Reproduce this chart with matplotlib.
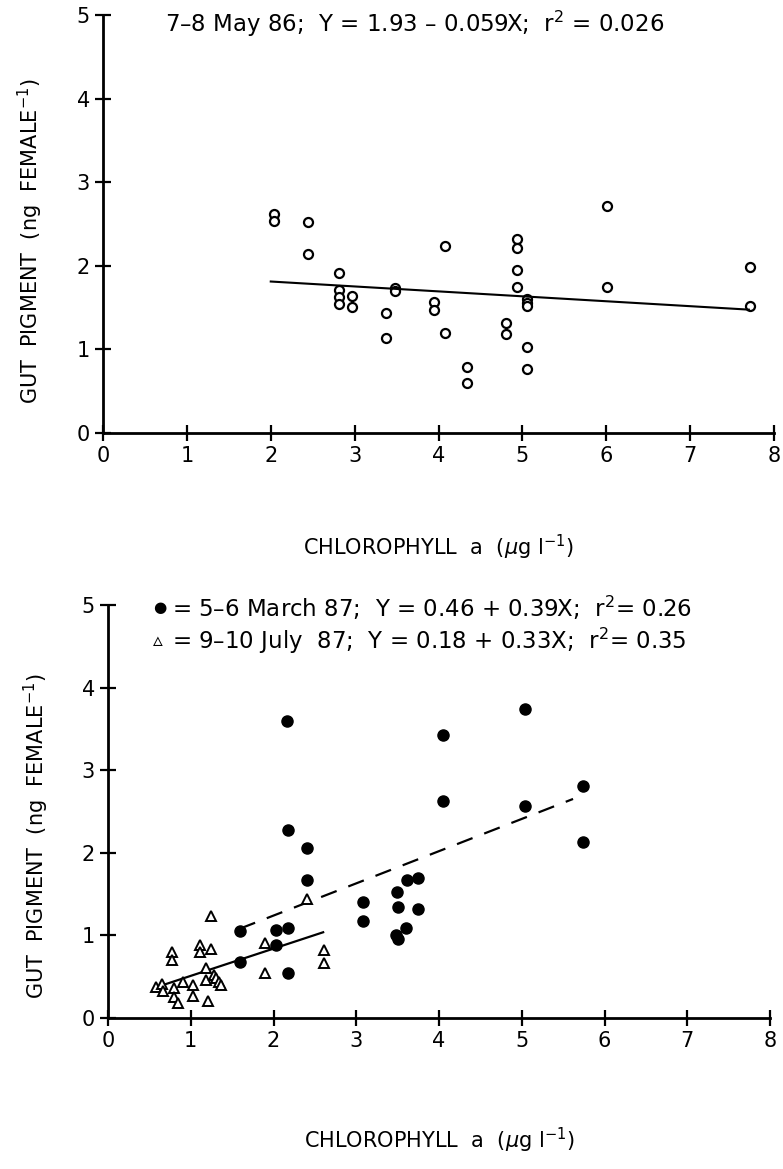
import matplotlib
matplotlib.use("Agg")
import matplotlib.pyplot as plt
import numpy as np

plt.rcParams['font.family'] = ['DejaVu Sans']
plt.rcParams['lines.scale_dashes'] = False
plt.rcParams['mathtext.fontset'] = 'dejavusans'

# ---- Top panel: 7-8 May 86 ----
may_x = [2.04, 2.04, 2.44, 2.44, 2.81, 2.81, 2.81, 2.81, 2.97, 2.97, 3.37, 3.37,
         3.48, 3.48, 3.95, 3.95, 4.08, 4.08, 4.34, 4.34, 4.81, 4.81, 4.93, 4.93,
         4.93, 4.93, 5.05, 5.05, 5.05, 5.05, 5.05, 6.01, 6.01, 7.71, 7.71]
may_y = [2.62, 2.53, 2.52, 2.14, 1.91, 1.71, 1.63, 1.54, 1.64, 1.51, 1.43, 1.14,
         1.73, 1.70, 1.57, 1.47, 2.24, 1.20, 0.79, 0.60, 1.32, 1.18, 2.32, 2.21,
         1.95, 1.75, 1.60, 1.55, 1.52, 1.03, 0.76, 2.72, 1.75, 1.99, 1.52]
may_fit = (1.93, -0.059)
may_fit_range = [2.0, 7.7]

# ---- Bottom panel: 5-6 March 87 (filled circles) ----
mar_x = [1.59, 1.59, 2.03, 2.03, 2.17, 2.17, 2.17, 2.16, 2.40, 2.40, 3.08, 3.08,
         3.49, 3.51, 3.48, 3.50, 3.61, 3.75, 3.75, 3.60, 4.05, 4.05, 5.04, 5.04,
         5.74, 5.74]
mar_y = [1.05, 0.68, 1.06, 0.88, 1.09, 0.54, 2.27, 3.59, 2.06, 1.67, 1.41, 1.18,
         1.53, 1.34, 1.00, 0.96, 1.67, 1.70, 1.32, 1.09, 3.43, 2.63, 3.74, 2.57,
         2.81, 2.13]
mar_fit = (0.46, 0.39)
mar_fit_range = [1.59, 5.62]

# ---- Bottom panel: 9-10 July 87 (open triangles) ----
jul_x = [0.58, 0.65, 0.66, 0.80, 0.80, 0.85, 0.91, 1.03, 1.03, 1.19, 1.21, 1.28,
         1.30, 1.34, 1.37, 1.24, 0.77, 0.77, 1.11, 1.11, 1.24, 1.90, 2.61, 2.61,
         1.19, 1.90, 2.40]
jul_y = [0.38, 0.41, 0.33, 0.36, 0.26, 0.18, 0.43, 0.40, 0.27, 0.46, 0.20, 0.52,
         0.48, 0.44, 0.40, 1.23, 0.80, 0.70, 0.88, 0.80, 0.84, 0.91, 0.82, 0.66,
         0.60, 0.55, 1.44]
jul_fit = (0.18, 0.33)
jul_fit_range = [0.60, 2.60]

x_ticks = [0, 1, 2, 3, 4, 5, 6, 7, 8]
y_ticks = [0, 1, 2, 3, 4, 5]

W, H = 783, 1169
fig = plt.figure(figsize=(W / 100, H / 100), dpi=100)

ax1 = fig.add_axes([103 / W, 1 - 433 / H, 671 / W, 418 / H])
ax2 = fig.add_axes([108 / W, 1 - 1018 / H, 662 / W, 413 / H])

ylabel = r'GUT  PIGMENT  (ng  FEMALE$^{-1}$)'
xlabel = r'CHLOROPHYLL  a  ($\mu$g l$^{-1}$)'

for ax, xpad, ylab_y in ((ax1, 48, 0.46), (ax2, 54, 0.44)):
    ax.set_xlim(0, 8)
    ax.set_ylim(0, 5)
    ax.set_xticks(x_ticks)
    ax.set_yticks(y_ticks)
    for s in ('top', 'right'):
        ax.spines[s].set_visible(False)
    for s in ('left', 'bottom'):
        ax.spines[s].set_linewidth(2.0)
    ax.tick_params(direction='inout', length=11, width=1.6, labelsize=15, pad=4)
    ax.set_ylabel(ylabel, fontsize=15)
    ax.set_xlabel(xlabel, fontsize=15, labelpad=xpad)
    ax.yaxis.set_label_coords(-0.086, ylab_y)
    for sp in ax.spines.values():
        sp.set_clip_on(False)

# top panel
ax1.plot(may_x, may_y, linestyle='none', marker='o', markersize=6.5,
         markerfacecolor='white', markeredgecolor='black', markeredgewidth=1.6,
         clip_on=False)
fx = np.array(may_fit_range)
ax1.plot(fx, may_fit[0] + may_fit[1] * fx, color='black', lw=1.5)
ax1.text(0.092, 0.978, r'7–8 May 86;  Y = 1.93 – 0.059X;  r$^2$ = 0.026',
         transform=ax1.transAxes, fontsize=16.5, va='center', ha='left')

# bottom panel
fx = np.array(mar_fit_range)
ax2.plot(fx, mar_fit[0] + mar_fit[1] * fx, color='black', lw=1.6,
         linestyle=(0, (12, 9)))
fx = np.array(jul_fit_range)
ax2.plot(fx, jul_fit[0] + jul_fit[1] * fx, color='black', lw=1.6)
ax2.plot(mar_x, mar_y, linestyle='none', marker='o', markersize=8,
         markerfacecolor='black', markeredgecolor='black', clip_on=False)
ax2.plot(jul_x, jul_y, linestyle='none', marker='^', markersize=6.5,
         markerfacecolor='white', markeredgecolor='black', markeredgewidth=1.4,
         clip_on=False)

ax2.text(0.068, 0.993, '●', transform=ax2.transAxes, fontsize=11,
         va='center', ha='left')
ax2.text(0.097, 0.993, r'= 5–6 March 87;  Y = 0.46 + 0.39X;  r$^2$= 0.26',
         transform=ax2.transAxes, fontsize=16.5, va='center', ha='left')
ax2.text(0.068, 0.913, '▵', transform=ax2.transAxes, fontsize=14,
         va='center', ha='left')
ax2.text(0.097, 0.913, r'= 9–10 July  87;  Y = 0.18 + 0.33X;  r$^2$= 0.35',
         transform=ax2.transAxes, fontsize=16.5, va='center', ha='left')

fig.savefig('out.png', dpi=100)
